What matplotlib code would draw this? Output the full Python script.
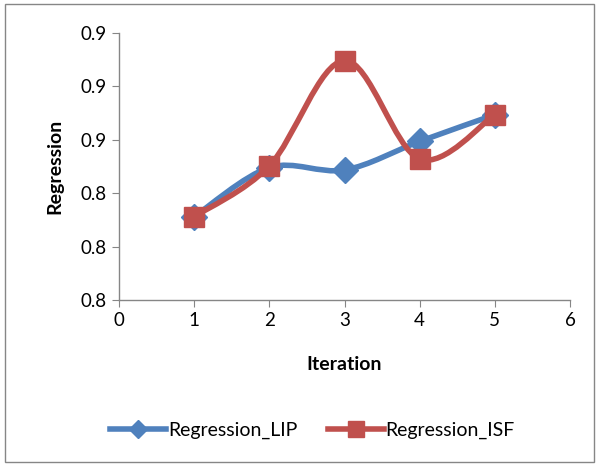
import matplotlib
matplotlib.use("Agg")
import matplotlib.pyplot as plt
import numpy as np
from matplotlib.path import Path
from matplotlib.patches import PathPatch, Rectangle
from matplotlib.lines import Line2D
from matplotlib.ticker import FormatStrFormatter, MultipleLocator

iterations = [1, 2, 3, 4, 5]
regression_lip = [0.8312, 0.8496, 0.8487, 0.8594, 0.8694]
regression_isf = [0.8312, 0.8502, 0.8897, 0.8528, 0.8694]
series_names = ["Regression_LIP", "Regression_ISF"]

BLUE = "#4F81BD"
RED = "#C0504D"
plt.rcParams['font.family'] = ['Lato', 'DejaVu Sans']

def smooth_path(xs, ys):
    pts = np.column_stack([xs, ys]).astype(float)
    n = len(pts)
    verts = [pts[0]]
    codes = [Path.MOVETO]
    for i in range(n - 1):
        p0 = pts[i - 1] if i > 0 else pts[i]
        p1 = pts[i]
        p2 = pts[i + 1]
        p3 = pts[i + 2] if i + 2 < n else pts[i + 1]
        c1 = p1 + (p2 - p0) / 6.0
        c2 = p2 - (p3 - p1) / 6.0
        verts += [c1, c2, p2]
        codes += [Path.CURVE4] * 3
    return Path(verts, codes)

fig = plt.figure(figsize=(5.99, 4.66), dpi=100)
fig.patches.append(Rectangle((5/599, 4/466), 589/599, 458/466, transform=fig.transFigure,
                             fill=False, edgecolor="#868686", linewidth=1.0))
ax = fig.add_axes([119/599, 1 - 300/466, 451/599, 267/466])

for ys, col, mk, ms in [(regression_lip, BLUE, 'D', 13), (regression_isf, RED, 's', 15)]:
    ax.add_patch(PathPatch(smooth_path(iterations, ys), facecolor='none', edgecolor=col,
                           linewidth=4.0, capstyle='round', joinstyle='round'))
    ax.plot(iterations, ys, linestyle='none', marker=mk, markersize=ms, color=col,
            markeredgecolor=col)

ax.set_xlim(0, 6)
ax.set_ylim(0.80, 0.90)
ax.xaxis.set_major_locator(MultipleLocator(1))
ax.yaxis.set_major_locator(MultipleLocator(0.02))
ax.yaxis.set_major_formatter(FormatStrFormatter('%.1f'))
for s in ['top', 'right']:
    ax.spines[s].set_visible(False)
for s in ['left', 'bottom']:
    ax.spines[s].set_color("#868686")
    ax.spines[s].set_linewidth(1.0)
ax.tick_params(direction='out', length=5, color="#868686", labelsize=13.5, pad=4)
ax.set_xlabel("Iteration", fontsize=14, fontweight='bold', labelpad=19)
ax.set_ylabel("Regression", fontsize=14, fontweight='bold', labelpad=12)

handles = [Line2D([], [], color=BLUE, linewidth=4.0, marker='D', markersize=9),
           Line2D([], [], color=RED, linewidth=4.0, marker='s', markersize=11)]
fig.legend(handles, series_names, loc='center', bbox_to_anchor=(0.522, 1 - 430/466),
           ncol=2, frameon=False, fontsize=14, handlelength=2.85, columnspacing=1.6,
           handletextpad=0.1)

fig.savefig("out.png", dpi=100)
